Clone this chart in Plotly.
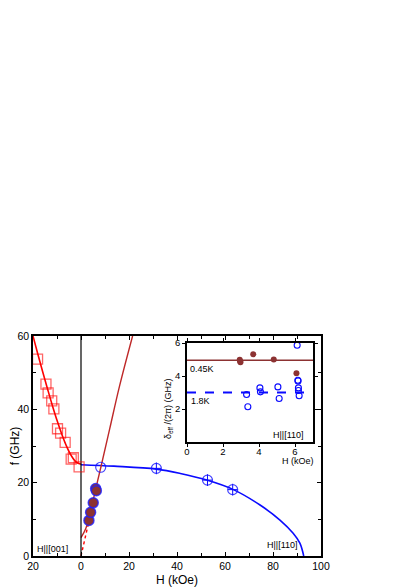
import plotly.graph_objects as go

# Main panel data (H in kOe; H||[001] plotted as negative H, labelled positive)
sq_h = [-18.1, -14.6, -13.7, -12.2, -11.3, -9.8, -8.5, -6.6, -4.1, -3.2, -0.8]
sq_f = [53.7, 46.9, 44.5, 42.3, 40.1, 34.7, 33.5, 31.0, 26.4, 26.8, 24.3]

open_h = [8.2, 31.4, 52.7, 63.2]
open_f = [24.2, 23.9, 20.7, 18.1]
open_eh = [0, 2.0, 2.0, 2.0]
open_ef = [0, 1.6, 1.6, 1.6]

fill_h = [3.3, 4.0, 5.1, 6.1, 6.4]
fill_f = [9.7, 11.9, 14.5, 18.4, 17.8]
fill_ef = [1.2, 1.2, 1.2, 1.2, 1.2]

# curves
c001_h = [-20, -18, -16, -14, -12, -10, -8, -6, -4, -2, 0]
c001_f = [60, 55.1, 50.3, 45.7, 41.2, 37.0, 33.2, 29.9, 27.3, 25.6, 25.0]

c110_h = [0, 13.7, 31.4, 41.4, 52.4, 63.5, 74.6, 82.9, 88.4, 91.2, 92.8]
c110_f = [24.9, 24.5, 23.7, 22.5, 20.7, 18.1, 13.9, 9.8, 6.2, 3.5, 0.0]

lin_h = [0, 2, 4, 6, 8.2, 12, 16, 21.5]
lin_f = [5.0, 7.5, 12.2, 17.9, 24.0, 34.8, 46.2, 60.0]

dot_h = [0, 1, 2, 3, 3.8]
dot_f = [0, 2.9, 5.8, 8.6, 10.9]

# Inset data
in_red_h = [2.93, 2.97, 2.95, 3.68, 4.82, 6.08]
in_red_d = [4.98, 4.84, 4.90, 5.32, 5.00, 4.16]
in_blue_h = [3.31, 3.38, 4.05, 4.08, 5.05, 5.12, 6.12, 6.16, 6.17, 6.19, 6.19, 6.23]
in_blue_d = [2.88, 2.14, 3.28, 3.04, 3.34, 2.64, 5.86, 3.74, 3.70, 3.28, 3.12, 2.80]
d_045 = 4.95
d_18 = 3.0

xtick_vals = [-20, 0, 20, 40, 60, 80, 100]
xtick_text = ['20', '0', '20', '40', '60', '80', '100']

RED = 'rgb(255,0,0)'
BLUE = 'rgb(10,10,255)'
BROWN = 'rgb(140,50,50)'
FONT = 'Arial, Liberation Sans, sans-serif'

# page has an 8px body margin, so the figure is drawn 8px in from the window corner
OFF = 8
W, H = 415 - OFF, 587 - OFF
# plot area edges in window pixels
PL, PR, PT, PB = 33, 321, 336, 556
L, R, T, B = PL - OFF, W - (PR - OFF), PT - OFF, H - (PB - OFF)
PW, PH = PR - PL, PB - PT


def px(x, y):
    # window pixel -> paper coords
    return (x - PL) / PW, (PB - y) / PH


fig = go.Figure()

fig.add_trace(go.Scatter(x=c001_h, y=c001_f, mode='lines',
                         line=dict(color=RED, width=1.6, shape='spline')))
fig.add_trace(go.Scatter(x=c110_h, y=c110_f, mode='lines',
                         line=dict(color=BLUE, width=1.6, shape='spline')))
fig.add_trace(go.Scatter(x=dot_h, y=dot_f, mode='lines',
                         line=dict(color=RED, width=1.4, dash='dot')))
fig.add_trace(go.Scatter(x=lin_h, y=lin_f, mode='lines',
                         line=dict(color='rgb(190,40,40)', width=1.4, shape='spline')))
fig.add_trace(go.Scatter(x=[0, 0], y=[0, 60], mode='lines', line=dict(color='black', width=1.2)))

fig.add_trace(go.Scatter(x=sq_h, y=sq_f, mode='markers',
                         marker=dict(symbol='square-open', size=10,
                                     color='rgba(255,0,0,0.6)', line=dict(width=1.3))))
fig.add_trace(go.Scatter(x=open_h, y=open_f, mode='markers',
                         error_x=dict(type='data', array=open_eh, color=BLUE, thickness=1, width=0),
                         error_y=dict(type='data', array=open_ef, color=BLUE, thickness=1, width=0),
                         marker=dict(symbol='circle-open', size=10, color='rgba(20,20,255,0.8)',
                                     line=dict(width=1.2))))
fig.add_trace(go.Scatter(x=fill_h, y=fill_f, mode='markers',
                         error_y=dict(type='data', array=fill_ef, color='rgb(20,20,90)',
                                      thickness=1.2, width=0),
                         marker=dict(symbol='circle', size=10, color=BROWN,
                                     line=dict(color='rgba(30,30,255,0.8)', width=1.5))))

# inset
fig.add_trace(go.Scatter(x=[0, 7], y=[d_045, d_045], mode='lines', xaxis='x2', yaxis='y2',
                         line=dict(color=BROWN, width=1.5)))
fig.add_trace(go.Scatter(x=[0, 7], y=[d_18, d_18], mode='lines', xaxis='x2', yaxis='y2',
                         line=dict(color=BLUE, width=2, dash='dash')))
fig.add_trace(go.Scatter(x=in_red_h, y=in_red_d, mode='markers', xaxis='x2', yaxis='y2',
                         marker=dict(symbol='circle', size=6, color=BROWN)))
fig.add_trace(go.Scatter(x=in_blue_h, y=in_blue_d, mode='markers', xaxis='x2', yaxis='y2',
                         marker=dict(symbol='circle-open', size=6, color=BLUE, line=dict(width=1.1))))

ax_common = dict(showgrid=False, zeroline=False, showline=True, linecolor='black',
                 linewidth=1.5, mirror='ticks', ticks='inside', ticklen=4, tickcolor='black',
                 automargin=False, tickfont=dict(size=10.5, color='black'))
in_common = dict(showgrid=False, zeroline=False, showline=True, linecolor='black', linewidth=1.5,
                 mirror='ticks', ticks='outside', ticklen=3, tickcolor='black', automargin=False,
                 tickfont=dict(size=9.5, color='black'))

x0, y1 = px(187, 343)
x1, y0 = px(313, 442)

fig.update_layout(
    width=W, height=H,
    margin=dict(l=L, r=R, t=T, b=B),
    paper_bgcolor='white', plot_bgcolor='white',
    showlegend=False,
    font=dict(family=FONT, color='black'),
    xaxis=dict(range=[-20, 100], tickvals=xtick_vals, ticktext=xtick_text,
               minor=dict(dtick=10, tick0=0, ticks='inside', ticklen=3, tickcolor='black'),
               title=dict(text='H (kOe)', font=dict(size=12), standoff=10), **ax_common),
    yaxis=dict(range=[0, 60], dtick=20,
               minor=dict(dtick=10, ticks='inside', ticklen=3, tickcolor='black'),
               title=dict(text='f (GHz)', font=dict(size=12), standoff=4), **ax_common),
    xaxis2=dict(domain=[x0, x1], anchor='y2', range=[0, 7], dtick=2, ticklabelstandoff=-3,
                **in_common),
    yaxis2=dict(domain=[y0, y1], anchor='x2', range=[0, 6], tickvals=[2, 4, 6], **in_common),
)

annots = [
    ('H||[001]', 35, 549, 'left'),
    ('H||[110]', 300, 545, 'right'),
    ('H||[110]', 306, 435, 'right'),
    ('0.45K', 188, 369, 'left'),
    ('1.8K', 189, 401, 'left'),
    ('H (kOe)', 316, 461, 'right'),
]
for text, ax, ay, anchor in annots:
    xp, yp = px(ax, ay)
    fig.add_annotation(text=text, x=xp, y=yp, xref='paper', yref='paper',
                       xanchor=anchor, yanchor='middle', showarrow=False,
                       font=dict(size=9, color='black'))

xp, yp = px(168.5, 376)
fig.add_annotation(text='δ<sub>eff</sub> /(2π) (GHz)', textangle=-90, showarrow=False,
                   x=xp, y=yp, xref='paper', yref='paper', font=dict(size=9, color='black'))

fig.write_html("out.html")
